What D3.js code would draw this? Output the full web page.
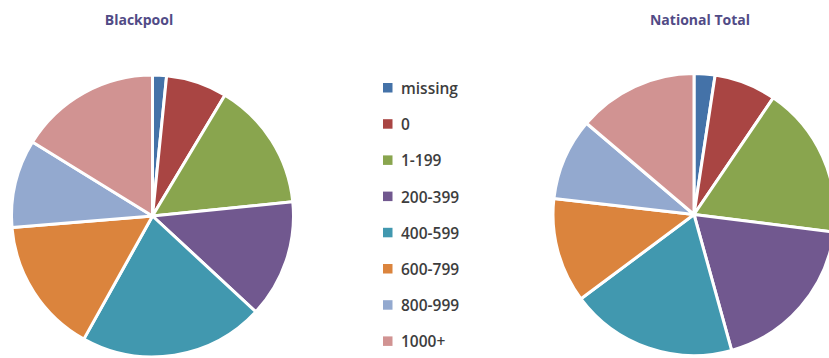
<!DOCTYPE html>
<html>
<head>
<meta charset="utf-8">
<script src="https://cdn.jsdelivr.net/npm/d3@7"></script>
<style>
  html, body { margin: 0; padding: 0; background: #fff; }
  svg { display: block; }
</style>
</head>
<body>
<svg id="chart" width="829" height="358"></svg>
<script>
// Share of properties by band, in percent
const categories = ["missing", "0", "1-199", "200-399", "400-599", "600-799", "800-999", "1000+"];
const blackpoolValues = [1.6, 7.0, 14.8, 13.5, 21.2, 15.6, 10.1, 16.2];
const nationalValues = [2.4, 7.1, 17.5, 18.7, 19.1, 12.0, 9.4, 13.8];
const titles = ["Blackpool", "National Total"];
const colors = ["#4472a8", "#a94543", "#89a54e", "#71588f", "#4198af", "#db843d", "#93a9cf", "#d19392"];

const svg = d3.select("#chart");
const color = d3.scaleOrdinal().domain(categories).range(colors);

const radius = 141;
const pie = d3.pie().sort(null).value(d => d.value);
const arc = d3.arc().innerRadius(0).outerRadius(radius);

function drawPie(values, cx, cy, title, titleX) {
  const data = categories.map((c, i) => ({ cat: c, value: values[i] }));
  const g = svg.append("g").attr("transform", `translate(${cx},${cy})`);
  g.selectAll("path")
    .data(pie(data))
    .join("path")
    .attr("d", arc)
    .attr("fill", d => color(d.data.cat))
    .attr("stroke", "#fff")
    .attr("stroke-width", 3)
    .attr("stroke-linejoin", "round");

  svg.append("text")
    .attr("x", titleX)
    .attr("y", 25)
    .attr("text-anchor", "middle")
    .attr("font-family", "'Open Sans', 'Noto Sans', sans-serif")
    .attr("font-weight", "bold")
    .attr("font-size", 14)
    .attr("fill", "#514b86")
    .text(title);
}

drawPie(blackpoolValues, 152.5, 216, titles[0], 139);
drawPie(nationalValues, 694, 214.5, titles[1], 700);

// Legend
const legend = svg.append("g").attr("transform", "translate(383,88)");
const rows = legend.selectAll("g")
  .data(categories)
  .join("g")
  .attr("transform", (d, i) => `translate(0,${i * 36.2})`);
rows.append("rect")
  .attr("x", 0).attr("y", -5)
  .attr("width", 9.5).attr("height", 9.5)
  .attr("fill", d => color(d));
rows.append("text")
  .attr("x", 18).attr("y", 6)
  .attr("font-family", "'Open Sans', 'Noto Sans', sans-serif")
  .attr("font-size", 15.5)
  .attr("font-weight", 600)
  .attr("fill", "#3d3d3d")
  .text(d => d);
</script>
</body>
</html>
